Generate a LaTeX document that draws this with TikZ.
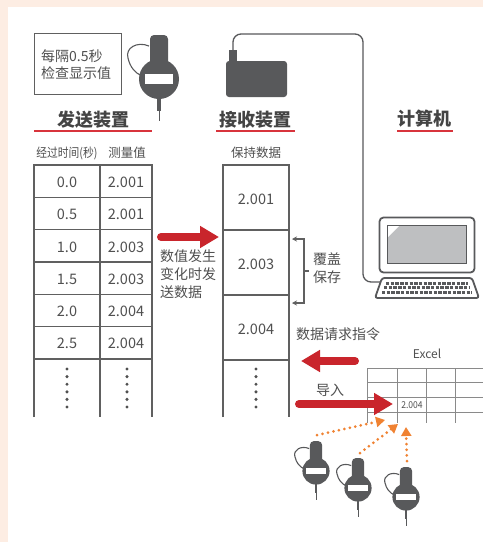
\documentclass[tikz,border=0pt]{standalone}
\usepackage{fontspec}
\setmainfont{Noto Sans CJK SC}
\usetikzlibrary{arrows.meta}

\definecolor{peach}{HTML}{FDEDE3}
\definecolor{ink}{HTML}{505050}
\definecolor{rule}{HTML}{606060}
\definecolor{devgray}{HTML}{58595B}
\definecolor{alertred}{HTML}{C9252C}
\definecolor{titlered}{HTML}{D8343C}
\definecolor{dotorange}{HTML}{F08232}
\definecolor{screengray}{HTML}{BEBFC1}
\definecolor{gridgray}{HTML}{8A8A8A}

\newcommand\fsz[2]{\fontsize{#1}{#2}\selectfont}

\tikzset{
  txt/.style={text=ink, inner sep=0pt, font=\fsz{14}{18}},
  small/.style={text=ink, inner sep=0pt, font=\fsz{12.5}{15}},
  heading/.style={text=ink!85!black, inner sep=0pt, font=\fsz{18}{20}\bfseries},
  cell/.style={text=ink, inner sep=0pt, font=\fsz{14.5}{16}},
  underline/.style={titlered, line width=1.4pt},
  tableline/.style={rule, line width=1.1pt},
  bigarrow/.style={alertred, line width=8pt, line cap=round,
    -{Triangle[length=19pt,width=21pt]}},
  dotarrow/.style={dotorange, line width=3pt, line cap=round,
    dash pattern=on 0pt off 5.6pt, -{Triangle[length=9pt,width=10pt]}},
  gauge/.pic={
    % cable loop
    \draw[devgray, line width=1.1pt] (-10,-33) .. controls (-22,-38) and (-34,-31) .. (-31,-21)
      .. controls (-29,-12) and (-24,-6) .. (-17,-3);
    % stem, dial and display
    \fill[devgray, rounded corners=4] (-9,-44) rectangle (9,-5);
    \fill[devgray] (0,0) circle (20);
    \fill[white] (-14,-5) rectangle (14,5);
    % spindle
    \fill[devgray] (-1.7,18) rectangle (1.7,32);
    \draw[devgray, line width=1pt] (0,31) -- (0,42);
  }
}

\begin{document}
\begin{tikzpicture}[x=1pt,y=-1pt]
\useasboundingbox (0,0) rectangle (483,542);
\fill[peach] (0,0) rectangle (483,542);
\fill[white] (8,7) rectangle (483,542);

% ---------- sender ----------
\node[draw=rule, line width=1pt, minimum width=87, minimum height=61, inner sep=0pt] (note) at (77.5,63.5) {};
\node[txt, anchor=west, align=left, font=\fsz{14}{16.5}] (notetxt) at (41,64.5) {每隔0.5秒\\检查显示值};
\pic at (159,79) {gauge};

\node[heading] (hsend) at (93,120) {发送装置};
\draw[underline] (34,131) -- (152,131);
\node[small] (hTime) at (67,153) {\scalebox{0.86}[1]{经过时间(秒)}};
\node[small] (hVal) at (127,153) {测量值};

\draw[tableline] (34,417) -- (34,165) -- (152,165) -- (152,417);
\draw[tableline] (100,165) -- (100,417);
\foreach \k in {1,...,6} \draw[tableline] (34,{165+32.33*\k}) -- (152,{165+32.33*\k});
\foreach \t/\v [count=\i from 0] in {0.0/2.001,0.5/2.001,1.0/2.003,1.5/2.003,2.0/2.004,2.5/2.004} {
  \node[cell] (t\i) at (67,{166+32.33*(\i+0.5)}) {\t};
  \node[cell] (v\i) at (126,{166+32.33*(\i+0.5)}) {\v};
}
\foreach \k in {0,...,5} {
  \fill[ink] (67,{369+7.6*\k}) circle (1.7);
  \fill[ink] (127,{369+7.6*\k}) circle (1.7);
  \fill[ink] (256,{369+7.6*\k}) circle (1.7);
}

% ---------- change arrow ----------
\coordinate (sendA) at (161,237);
\coordinate (sendB) at (219,237);
\draw[bigarrow] (sendA) -- (sendB);
\node[txt, anchor=north west, align=left, font=\fsz{14}{18}] (changetxt) at (160,249) {数值发生\\变化时发\\送数据};

% ---------- receiver ----------
\node[fill=devgray, rounded corners=3, minimum width=61, minimum height=36, inner sep=0pt] (recv) at (256.5,79) {};
\node[fill=devgray, minimum width=8, minimum height=12, inner sep=0pt] (plug) at (233,56) {};
\node[heading] (hrecv) at (255,120) {接收装置};
\draw[underline] (216,131) -- (295,131);
\node[small] (hHold) at (256,153) {保持数据};

\draw[tableline] (223,417) -- (223,165) -- (289,165) -- (289,417);
\foreach \yy in {230,295,360} \draw[tableline] (223,\yy) -- (289,\yy);
\node[cell] (r1) at (256,199) {2.001};
\node[cell] (r2) at (256,264) {2.003};
\node[cell] (r3) at (256,329) {2.004};

% overwrite bracket
\draw[rule, line width=1.1pt, {Stealth[length=5pt,width=5pt]}-{Stealth[length=5pt,width=5pt]}]
  (292,239) -- (304,239) -- (304,303) -- (292,303);
\draw[rule, line width=1.1pt] (304,271) -- (309,271);
\node[txt, anchor=north west, align=left, font=\fsz{14}{17.5}] (owtxt) at (313,253) {覆盖\\保存};

% ---------- computer ----------
\node[heading] (hpc) at (424,119) {计算机};
\draw[underline] (397,131) -- (453,131);

\node[draw=devgray, fill=white, line width=1.8pt, rounded corners=4, minimum width=95, minimum height=55, inner sep=0pt] (screen) at (427,245) {};
\node[draw=devgray, fill=screengray, line width=1.4pt, minimum width=79, minimum height=38, inner sep=0pt] (panel) at (427,244.5) {};
\fill[white] (388,226) -- (399,226) -- (388,237) -- cycle;
\draw[devgray, line width=1.8pt, rounded corners=2.5, fill=white] (382,278) -- (472,278) -- (479,298) -- (375,298) -- cycle;
\coordinate (kbd) at (380,282);
\draw[devgray, line width=3pt, dash pattern=on 3.4pt off 1.3pt] (386,283) -- (468,283);
\draw[devgray, line width=3pt, dash pattern=on 3.4pt off 1.3pt] (384,287.5) -- (470,287.5);
\draw[devgray, line width=3pt, dash pattern=on 3.4pt off 1.3pt] (382,292) -- (472,292);

% cable from receiver to computer
\draw[devgray, line width=1.3pt, rounded corners=8] (plug.north) -- (233,34) -- (363,34) -- (363,282) -- (kbd);

% ---------- request / import ----------
\node[txt, anchor=west] (reqtxt) at (296,334) {数据请求指令};
\coordinate (reqA) at (355,361);
\coordinate (reqB) at (301,361);
\draw[bigarrow] (reqA) -- (reqB);

\node[text=ink, inner sep=0pt, font=\fsz{12}{14}] (excel) at (427,354) {Excel};
\foreach \yy in {368,382,397,412} \draw[gridgray, line width=0.9pt] (367,\yy) -- (483,\yy);
\foreach \xx in {367,397,426,455} \draw[gridgray, line width=0.9pt] (\xx,368) -- (\xx,423);
\node[text=ink, inner sep=0pt, font=\fsz{9.5}{11}] (cellval) at (412,405) {\scalebox{0.9}[1]{2.004}};

\node[txt] (imptxt) at (330,390) {导入};
\coordinate (impA) at (299,404);
\coordinate (impB) at (393,404);
\draw[bigarrow] (impA) -- (impB);

% ---------- gauges feeding the sheet ----------
\pic[scale=0.68] at (316,471) {gauge};
\pic[scale=0.68] at (358,488) {gauge};
\pic[scale=0.68] at (406,497) {gauge};
\coordinate (g1) at (317,435);
\coordinate (g2) at (360,453);
\coordinate (g3) at (407,461);
\coordinate (c1) at (385,420);
\coordinate (c2) at (398,424);
\coordinate (c3) at (406,427);
\draw[dotarrow] (g1) -- (c1);
\draw[dotarrow] (g2) -- (c2);
\draw[dotarrow] (g3) -- (c3);
\end{tikzpicture}
\end{document}
